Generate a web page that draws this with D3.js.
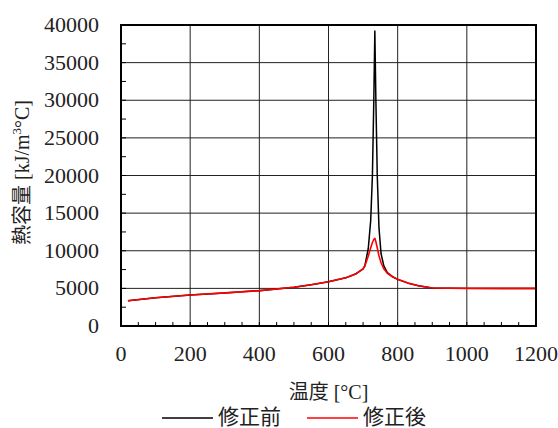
<!DOCTYPE html>
<html><head><meta charset="utf-8">
<script src="https://cdn.jsdelivr.net/npm/d3@7"></script>
<style>body{margin:0;background:#fff}svg{display:block}
text{font-family:"Liberation Serif","DejaVu Serif","Noto Sans CJK JP",serif;}
</style>
</head><body>
<script>
const temps = [20, 100, 200, 300, 400, 500, 550, 600, 650, 680, 700, 705, 715, 722, 727, 731, 734, 737, 741, 746, 752, 760, 770, 785, 800, 830, 860, 900, 1000, 1100, 1200];
const before = [3360, 3750, 4120, 4400, 4700, 5150, 5480, 5880, 6400, 6950, 7600, 8000, 10300, 14000, 20000, 30000, 39200, 30000, 20000, 13000, 9600, 8000, 7100, 6550, 6200, 5700, 5350, 5050, 5000, 5000, 5000];
const after = [3360, 3750, 4120, 4400, 4700, 5150, 5480, 5880, 6400, 6950, 7600, 7950, 9300, 10400, 11100, 11500, 11650, 11200, 10400, 9300, 8400, 7600, 7000, 6550, 6200, 5700, 5350, 5050, 5000, 5000, 5000];
const xTicks = [0, 200, 400, 600, 800, 1000, 1200];
const yTicks = [0, 5000, 10000, 15000, 20000, 25000, 30000, 35000, 40000];
const seriesNames = ["修正前", "修正後"];

const W = 558, H = 428;
const L = 121, R = 536, T = 25, B = 326;
const svg = d3.select("body").append("svg").attr("width", W).attr("height", H);
const x = d3.scaleLinear().domain([0, 1200]).range([L, R]);
const y = d3.scaleLinear().domain([0, 40000]).range([B, T]);

// grid
const g = svg.append("g");
g.selectAll(".gx").data(xTicks).join("line")
  .attr("x1", d => x(d)).attr("x2", d => x(d)).attr("y1", T).attr("y2", B)
  .attr("stroke", "#222").attr("stroke-width", 1);
g.selectAll(".gy").data(yTicks).join("line")
  .attr("y1", d => y(d)).attr("y2", d => y(d)).attr("x1", L).attr("x2", R)
  .attr("stroke", "#222").attr("stroke-width", 1);

// minor ticks (inside)
const xMinor = d3.range(0, 1201, 50);
g.selectAll(".mx").data(xMinor).join("line")
  .attr("x1", d => x(d)).attr("x2", d => x(d)).attr("y1", B).attr("y2", B - 4)
  .attr("stroke", "#000").attr("stroke-width", 1);
const yMinor = d3.range(0, 40001, 2500);
g.selectAll(".my").data(yMinor).join("line")
  .attr("y1", d => y(d)).attr("y2", d => y(d)).attr("x1", L).attr("x2", L + 5)
  .attr("stroke", "#000").attr("stroke-width", 1);

// lines
const pts = vals => temps.map((t, i) => [t, vals[i]]);
const line = d3.line().x(d => x(d[0])).y(d => y(d[1]));
svg.append("path").attr("d", line(pts(before))).attr("fill", "none")
  .attr("stroke", "#000").attr("stroke-width", 1.5).attr("stroke-linejoin", "round");
svg.append("path").attr("d", line(pts(after))).attr("fill", "none")
  .attr("stroke", "#ff0000").attr("stroke-width", 1.6).attr("stroke-linejoin", "round");

// frame
svg.append("rect").attr("x", L).attr("y", T).attr("width", R - L).attr("height", B - T)
  .attr("fill", "none").attr("stroke", "#000").attr("stroke-width", 2);

// tick labels
svg.selectAll(".xl").data(xTicks).join("text")
  .attr("x", d => x(d)).attr("y", 361).attr("text-anchor", "middle")
  .attr("font-size", 22).attr("fill", "#222").text(d => d);
svg.selectAll(".yl").data(yTicks).join("text")
  .attr("x", 99).attr("y", d => y(d) + 7).attr("text-anchor", "end")
  .attr("font-size", 22).attr("fill", "#222").text(d => d);

// axis titles
svg.append("text").attr("x", (L + R) / 2).attr("y", 399).attr("text-anchor", "middle")
  .attr("font-size", 20).attr("fill", "#222").text("温度 [°C]");
const yt = svg.append("text").attr("transform", `translate(29,${(T + B) / 2 - 3}) rotate(-90)`)
  .attr("text-anchor", "middle").attr("font-size", 20).attr("fill", "#222");
yt.append("tspan").text("熱容量 [kJ/m");
yt.append("tspan").attr("font-size", 13).attr("dy", -8).text("3");
yt.append("tspan").attr("dy", 8).text("°C]");

// legend
const leg = [{name: seriesNames[0], color: "#000", x1: 162, x2: 213, tx: 218},
             {name: seriesNames[1], color: "#ff0000", x1: 307, x2: 358, tx: 363}];
leg.forEach(d => {
  svg.append("line").attr("x1", d.x1).attr("x2", d.x2).attr("y1", 418).attr("y2", 418)
    .attr("stroke", d.color).attr("stroke-width", 1.5);
  svg.append("text").attr("x", d.tx).attr("y", 424)
    .attr("font-size", 21).attr("fill", "#222").text(d.name);
});
</script>
</body></html>
